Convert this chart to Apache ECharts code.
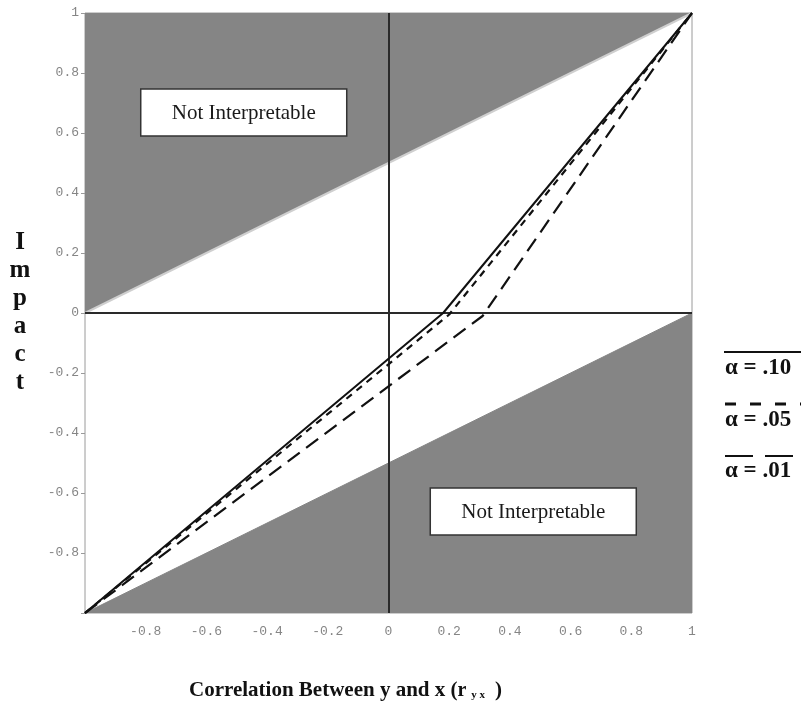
<!DOCTYPE html>
<html lang="en" style="height: 100%">
<head>
    <meta charset="utf-8">
</head>
<body style="height: 100%; margin: 0; background: #fff">
<div id="container" style="height: 100%"></div>
<script type="text/javascript" src="https://fastly.jsdelivr.net/npm/echarts@6/dist/echarts.min.js"></script>
<script type="text/javascript">

    // impact curves, piecewise (x = r_yx, y = impact)
    const alpha10 = [[-1, -1], [0.18, 0], [1, 1]];
    const alpha05 = [[-1, -1], [0.2, -0.005], [1, 1]];
    const alpha01 = [[-1, -1], [0.31, -0.01], [1, 1]];

    // boundaries of the "not interpretable" zones
    const upperBound = [[-1, 0], [1, 1]];
    const lowerBound = [[-1, -1], [1, 0]];

    // annotation boxes (centre in data coords)
    const boxCentres = [[-0.477, 0.67], [0.477, -0.66]];
    const boxLabels = ['Not Interpretable', 'Not Interpretable'];

    const legendNames = ['α = .10', 'α = .05', 'α = .01'];

    const serif = '"Liberation Serif", "DejaVu Serif", serif';
    const mono = '"Liberation Mono", "DejaVu Sans Mono", monospace';
    const grey = '#858585';

    var dom = document.getElementById('container');
    var myChart = echarts.init(dom, null, {renderer: 'canvas'});

    function tickLabel(v) {
        if (v === -1) return '';
        return String(+v.toFixed(1));
    }

    function curve(data, dash, width) {
        return {
            type: 'line',
            data: data,
            symbol: 'none',
            z: 5,
            lineStyle: {color: '#111', width: width, type: dash},
            silent: true
        };
    }

    const option = {
        animation: false,
        backgroundColor: '#fff',
        grid: {
            left: 85, right: 109, top: 13, bottom: 92,
            show: true, borderColor: '#9a9a9a', borderWidth: 1,
            backgroundColor: '#fff'
        },
        xAxis: {
            type: 'value', min: -1, max: 1, interval: 0.2,
            axisLine: {show: false, onZero: false},
            axisTick: {show: false},
            splitLine: {show: false},
            axisLabel: {
                formatter: tickLabel, margin: 12,
                fontFamily: mono, fontSize: 13, color: '#858585'
            }
        },
        yAxis: {
            type: 'value', min: -1, max: 1, interval: 0.2,
            axisLine: {show: false, onZero: false},
            axisTick: {show: true, length: 4, lineStyle: {color: '#9a9a9a'}},
            splitLine: {show: false},
            axisLabel: {
                formatter: tickLabel, margin: 6,
                fontFamily: mono, fontSize: 13, color: '#858585'
            },
            name: 'I\nm\np\na\nc\nt',
            nameLocation: 'middle',
            nameRotate: 0,
            nameGap: 65,
            nameTextStyle: {
                fontFamily: serif, fontWeight: 'bold', fontSize: 25,
                lineHeight: 28, color: '#111', align: 'center'
            }
        },
        title: {
            left: 184, top: 675,
            text: '{t|Correlation Between y and x (}{r|r}{s| y x }{t| )}',
            textStyle: {
                rich: {
                    t: {fontFamily: serif, fontWeight: 'bold', fontSize: 21, color: '#111'},
                    r: {fontFamily: serif, fontSize: 20, color: '#111'},
                    s: {fontFamily: serif, fontSize: 11, color: '#111', verticalAlign: 'bottom', padding: [8, 2, 0, 2]}
                }
            }
        },
        series: [
            {
                type: 'line', data: upperBound, symbol: 'none', silent: true, z: 1,
                lineStyle: {color: '#cfcfcf', width: 2},
                areaStyle: {color: grey, opacity: 1, origin: 'end'}
            },
            {
                type: 'line', data: lowerBound, symbol: 'none', silent: true, z: 1,
                lineStyle: {color: grey, width: 1},
                areaStyle: {color: grey, opacity: 1, origin: 'start'},
                markLine: {
                    silent: true, symbol: 'none', animation: false,
                    label: {show: false},
                    lineStyle: {color: '#2a2a2a', width: 2, type: 'solid'},
                    data: [{xAxis: 0}, {yAxis: 0}]
                }
            },
            curve(alpha10, 'solid', 2),
            curve(alpha05, [7, 6], 2.2),
            curve(alpha01, [15, 8], 2.2),
            {
                type: 'custom', data: boxCentres, z: 6, silent: true,
                renderItem: function (params, api) {
                    const c = api.coord([api.value(0), api.value(1)]);
                    return {
                        type: 'group',
                        children: [
                            {
                                type: 'rect',
                                shape: {x: c[0] - 103, y: c[1] - 23, width: 206, height: 47},
                                style: {fill: '#fff', stroke: '#333', lineWidth: 1.5}
                            },
                            {
                                type: 'text',
                                style: {
                                    text: boxLabels[params.dataIndex], x: c[0], y: c[1] + 1,
                                    align: 'center', verticalAlign: 'middle',
                                    font: '21px ' + serif, fill: '#1a1a1a'
                                }
                            }
                        ]
                    };
                }
            }
        ],
        graphic: [
            {type: 'line', shape: {x1: 724, y1: 352, x2: 801, y2: 352}, style: {stroke: '#111', lineWidth: 2}},
            {type: 'text', left: 725, top: 357, style: {text: legendNames[0], font: 'bold 23px ' + serif, fill: '#111'}},
            {type: 'line', shape: {x1: 725, y1: 404, x2: 801, y2: 404}, style: {stroke: '#111', lineWidth: 3, lineDash: [11, 14]}},
            {type: 'text', left: 725, top: 409, style: {text: legendNames[1], font: 'bold 23px ' + serif, fill: '#111'}},
            {type: 'line', shape: {x1: 725, y1: 456, x2: 801, y2: 456}, style: {stroke: '#111', lineWidth: 2, lineDash: [28, 12]}},
            {type: 'text', left: 725, top: 460, style: {text: legendNames[2], font: 'bold 23px ' + serif, fill: '#111'}}
        ]
    };

    myChart.setOption(option);
    window.addEventListener('resize', myChart.resize);

</script>
</body>
</html>
